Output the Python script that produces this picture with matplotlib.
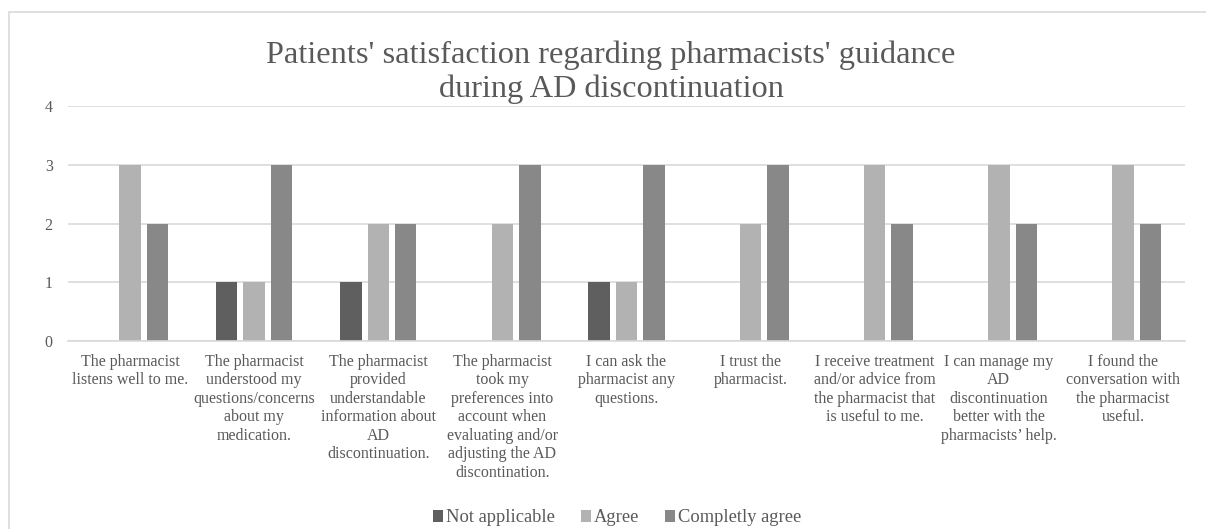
import matplotlib
matplotlib.use("Agg")
import matplotlib.pyplot as plt
from matplotlib.patches import Rectangle
import numpy as np

categories = [
    "The pharmacist\nlistens well to me.",
    "The pharmacist\nunderstood my\nquestions/concerns\nabout my\nmedication.",
    "The pharmacist\nprovided\nunderstandable\ninformation about\nAD\ndiscontinuation.",
    "The pharmacist\ntook my\npreferences into\naccount when\nevaluating and/or\nadjusting the AD\ndiscontination.",
    "I can ask the\npharmacist any\nquestions.",
    "I trust the\npharmacist.",
    "I receive treatment\nand/or advice from\nthe pharmacist that\nis useful to me.",
    "I can manage my\nAD\ndiscontinuation\nbetter with the\npharmacists\u2019 help.",
    "I found the\nconversation with\nthe pharmacist\nuseful.",
]
not_applicable = [0, 1, 1, 0, 1, 0, 0, 0, 0]
agree = [3, 1, 2, 2, 1, 2, 3, 3, 3]
completely_agree = [2, 3, 2, 3, 3, 3, 2, 2, 2]
series_names = ["Not applicable", "Agree", "Completly agree"]
yticks = [0, 1, 2, 3, 4]
title_lines = ["Patients' satisfaction regarding pharmacists' guidance",
               "during AD discontinuation"]

colors = ["#5f5f5f", "#b2b2b2", "#888888"]
text_color = "#595959"

plt.rcParams['font.family'] = ['Liberation Serif', 'DejaVu Serif']

fig = plt.figure(figsize=(12.06, 5.29), dpi=100)
W, H = 1206, 529
ax = fig.add_axes([68 / W, 1 - 341 / H, (1185 - 68) / W, (341 - 106) / H])

x = np.arange(len(categories))
bw = 0.173
off = 0.221
for i, (vals, name, c) in enumerate(zip([not_applicable, agree, completely_agree], series_names, colors)):
    ax.bar(x + (i - 1) * off, vals, width=bw, color=c, label=name, zorder=3)

ax.set_xlim(-0.5, len(categories) - 0.5)
ax.set_ylim(0, 4)
ax.set_yticks(yticks)
ax.set_yticklabels([str(v) for v in yticks], fontsize=11.5, color=text_color)
ax.set_xticks(x)
ax.set_xticklabels(categories, fontsize=11.5, color=text_color, linespacing=1.21, va='top')
ax.tick_params(axis='both', length=0)
ax.tick_params(axis='x', pad=9)
ax.tick_params(axis='y', pad=11)
ax.grid(axis='y', color='#d9d9d9', linewidth=1.2, zorder=0)
for s in ['top', 'right', 'left']:
    ax.spines[s].set_visible(False)
ax.spines['bottom'].set_color('#d9d9d9')
ax.spines['bottom'].set_linewidth(1.2)
ax.spines['bottom'].set_zorder(4)

fig.text(611 / W, 1 - 63 / H, title_lines[0], ha='center', va='baseline',
         fontsize=23.3, color=text_color)
fig.text(611 / W, 1 - 97 / H, title_lines[1], ha='center', va='baseline',
         fontsize=23.3, color=text_color)

leg = fig.legend(loc='center', bbox_to_anchor=(617 / W, 1 - 518 / H), ncol=3, frameon=False,
                 fontsize=13.3, handlelength=0.55, handleheight=0.55, handletextpad=0.15,
                 columnspacing=1.4)
for t in leg.get_texts():
    t.set_color(text_color)

fig.patches.append(Rectangle((9 / W, -0.05), 1.2, 1.05 - 12 / H, transform=fig.transFigure,
                             fill=False, edgecolor='#d9d9d9', linewidth=1.2))

fig.savefig("out.png", dpi=100)
